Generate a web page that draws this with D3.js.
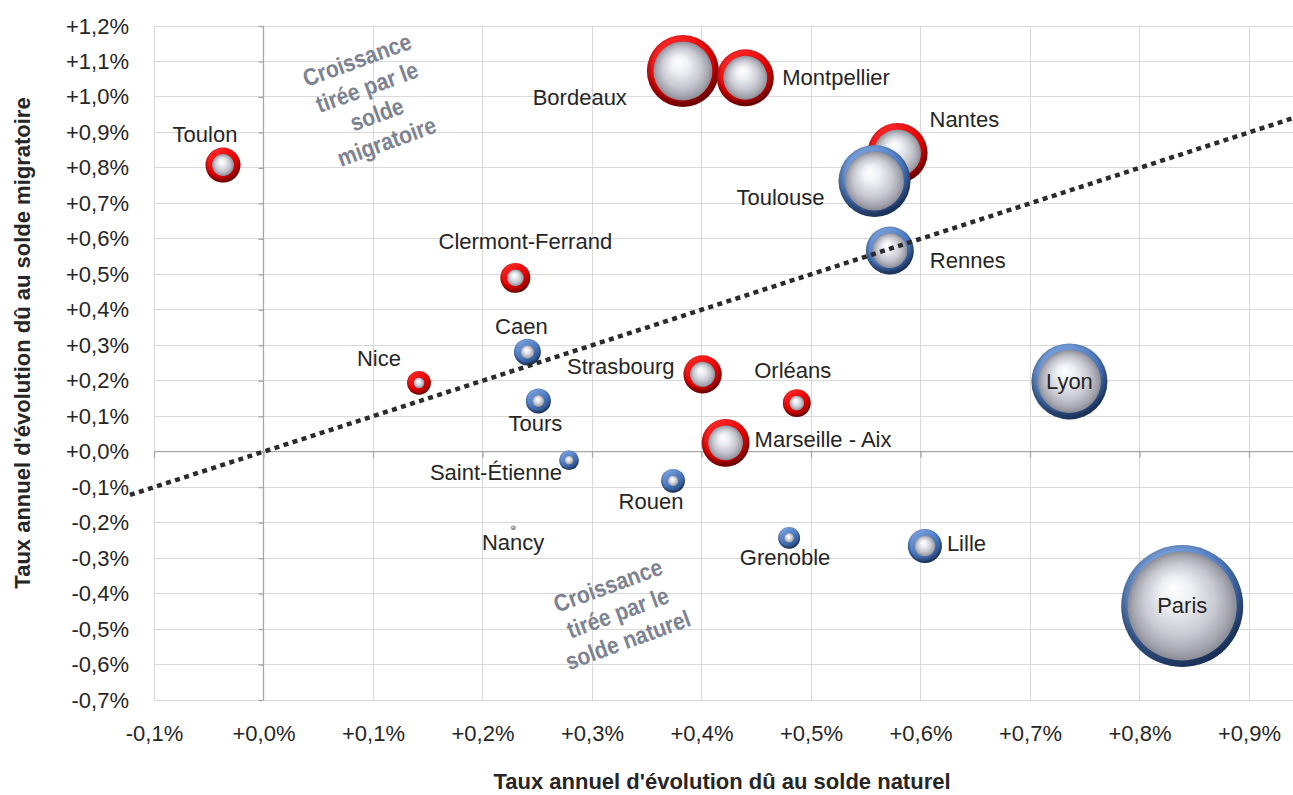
<!DOCTYPE html>
<html>
<head>
<meta charset="utf-8">
<script src="https://cdn.jsdelivr.net/npm/d3@7"></script>
<style>
  html, body { margin: 0; padding: 0; background: #ffffff; }
  svg { display: block; font-family: "Liberation Sans", Arial, sans-serif; }
</style>
</head>
<body>
<svg id="chart" width="1293" height="795"></svg>
<script>
// ---- Data ----
const villes = ["Nantes","Bordeaux","Montpellier","Toulon","Clermont-Ferrand","Nice","Strasbourg","Orléans","Marseille - Aix",
                "Toulouse","Rennes","Lyon","Paris","Lille","Caen","Tours","Saint-Étienne","Rouen","Grenoble","Nancy"];
const soldeNaturel = [0.579, 0.383, 0.440, -0.037, 0.230, 0.142, 0.401, 0.487, 0.422,
                      0.558, 0.572, 0.736, 0.839, 0.604, 0.241, 0.251, 0.279, 0.374, 0.480, 0.228];
const soldeMigratoire = [0.842, 1.073, 1.054, 0.808, 0.490, 0.194, 0.218, 0.137, 0.025,
                         0.763, 0.567, 0.198, -0.435, -0.266, 0.281, 0.143, -0.024, -0.082, -0.243, -0.214];
// annual population growth (thousands of inhabitants) -> bubble area
const croissance = [12.1, 17.4, 10.9, 4.1, 3.0, 1.9, 4.9, 2.6, 7.7,
                    17.4, 7.7, 19.4, 50, 3.9, 2.4, 2.1, 1.3, 1.9, 1.6, 0.08];
const groupe = ["rouge","rouge","rouge","rouge","rouge","rouge","rouge","rouge","rouge",
                "bleu","bleu","bleu","bleu","bleu","bleu","bleu","bleu","bleu","bleu","gris"];
const xTicks = [-0.1, 0.0, 0.1, 0.2, 0.3, 0.4, 0.5, 0.6, 0.7, 0.8, 0.9];
const yTicks = [-0.7, -0.6, -0.5, -0.4, -0.3, -0.2, -0.1, 0.0, 0.1, 0.2, 0.3, 0.4, 0.5, 0.6, 0.7, 0.8, 0.9, 1.0, 1.1, 1.2];
const diagonale = [-0.122, 0.94];   // reference line y = x
const titreX = "Taux annuel d'évolution dû au solde naturel";
const titreY = "Taux annuel d'évolution dû au solde migratoire";
const annotationHaut = ["Croissance", "tirée par le", "solde", "migratoire"];
const annotationBas = ["Croissance", "tirée par le", "solde naturel"];

// label placement (anchor, dx, dy in px relative to bubble centre)
const labelPlacement = {
  "Toulon": ["middle", -18, -31], "Bordeaux": ["end", -56, 26], "Montpellier": ["start", 37, 0],
  "Nantes": ["start", 32, -33], "Toulouse": ["end", -50, 16], "Rennes": ["start", 40, 10],
  "Clermont-Ferrand": ["middle", 10, -36], "Caen": ["middle", -6, -26], "Nice": ["middle", -40, -24],
  "Strasbourg": ["end", -28, -8], "Orléans": ["middle", -4, -33], "Lyon": ["middle", 0, 0],
  "Tours": ["middle", -3, 23], "Marseille - Aix": ["start", 29, -3], "Saint-Étienne": ["end", -7, 12],
  "Rouen": ["middle", -22, 21], "Nancy": ["middle", 0, 15], "Grenoble": ["middle", -4, 20],
  "Lille": ["start", 22, -3], "Paris": ["middle", 0, 0]
};

const data = villes.map((v, i) => ({ville: v, x: soldeNaturel[i], y: soldeMigratoire[i], s: croissance[i], g: groupe[i]}));

// ---- Layout ----
const W = 1293, H = 795;
const svg = d3.select("#chart");
const x = d3.scaleLinear().domain([-0.1, 0.9]).range([154, 1249]);
const y = d3.scaleLinear().domain([-0.7, 1.2]).range([700, 26]);
const r = d3.scaleSqrt().domain([0, 50]).range([0, 61]);
const plotRight = W;
const fmt = v => (v < -1e-9 ? "-" : "+") + Math.abs(v).toFixed(1).replace(".", ",") + "%";

const defs = svg.append("defs");
const sphere = defs.append("radialGradient").attr("id", "sphere")
  .attr("cx", "50%").attr("cy", "50%").attr("r", "50%").attr("fx", "42%").attr("fy", "33%");
[[0, "#ffffff"], [0.3, "#eeeff3"], [0.65, "#c9cad2"], [0.88, "#a5a6af"], [1, "#8a8b95"]]
  .forEach(([o, c]) => sphere.append("stop").attr("offset", o).attr("stop-color", c));
const ringCols = {
  rouge: ["#ff2a2a", "#e80000", "#9a0000"],
  bleu: ["#7aa2dd", "#4a78c0", "#24467f"],
  gris: ["#c8c8c8", "#a0a0a0", "#707070"]
};
Object.entries(ringCols).forEach(([k, c]) => {
  const g = defs.append("linearGradient").attr("id", "ring-" + k)
    .attr("x1", "0.2").attr("y1", "0.05").attr("x2", "0.8").attr("y2", "0.95");
  g.append("stop").attr("offset", 0).attr("stop-color", c[0]);
  g.append("stop").attr("offset", 0.5).attr("stop-color", c[1]);
  g.append("stop").attr("offset", 1).attr("stop-color", c[2]);
});
const shade = defs.append("radialGradient").attr("id", "shade").attr("cx", "50%").attr("cy", "45%").attr("r", "55%");
shade.append("stop").attr("offset", 0.75).attr("stop-color", "#000").attr("stop-opacity", 0);
shade.append("stop").attr("offset", 0.92).attr("stop-color", "#000").attr("stop-opacity", 0.35);

// ---- Grid ----
const grid = svg.append("g");
grid.selectAll(".gx").data(xTicks).join("line")
  .attr("x1", d => x(d)).attr("x2", d => x(d)).attr("y1", y(1.2)).attr("y2", y(-0.7))
  .attr("stroke", "#d9d9d9").attr("stroke-width", 1).attr("shape-rendering", "crispEdges");
grid.selectAll(".gy").data(yTicks).join("line")
  .attr("x1", x(-0.1)).attr("x2", plotRight).attr("y1", d => y(d)).attr("y2", d => y(d))
  .attr("stroke", "#d9d9d9").attr("stroke-width", 1).attr("shape-rendering", "crispEdges");

// zero axes with tick marks
const axY0 = svg.append("g").attr("transform", `translate(${x(0)},0)`)
  .call(d3.axisLeft(y).tickValues(yTicks).tickSize(5).tickFormat(""));
axY0.select(".domain").remove();
axY0.append("line").attr("x1", 0).attr("x2", 0).attr("y1", y(1.2)).attr("y2", y(-0.7));
const axX0 = svg.append("g").attr("transform", `translate(0,${y(0)})`)
  .call(d3.axisBottom(x).tickValues(xTicks).tickSize(6).tickFormat(""));
axX0.select(".domain").remove();
axX0.append("line").attr("x1", x(-0.1)).attr("x2", plotRight).attr("y1", 0).attr("y2", 0);
[axY0, axX0].forEach(a => a.selectAll("line").attr("stroke", "#a6a6a6").attr("stroke-width", 1.3));

// tick labels (low position)
const axL = svg.append("g").attr("transform", `translate(${x(-0.1)},0)`)
  .call(d3.axisLeft(y).tickValues(yTicks).tickSize(0).tickPadding(25).tickFormat(fmt));
const axB = svg.append("g").attr("transform", `translate(0,${y(-0.7)})`)
  .call(d3.axisBottom(x).tickValues(xTicks).tickSize(0).tickPadding(25).tickFormat(fmt));
[axL, axB].forEach(a => {
  a.select(".domain").remove();
  a.selectAll("text").attr("font-size", 22).attr("fill", "#262626").attr("font-family", "Liberation Sans, Arial, sans-serif");
});

// ---- Annotations ----
function annot(lines, cx, cy) {
  const g = svg.append("g").attr("transform", `translate(${cx},${cy}) rotate(-20) scale(0.88,1)`);
  const n = lines.length, lh = 29;
  g.selectAll("text").data(lines).join("text")
    .attr("x", 0).attr("y", (d, i) => (i - (n - 1) / 2) * lh)
    .attr("text-anchor", "middle").attr("dominant-baseline", "central")
    .attr("font-size", 24).attr("font-weight", "bold").attr("fill", "#7d8391")
    .text(d => d);
}
annot(annotationHaut, 372, 101);
annot(annotationBas, 618, 613);

// ---- Bubbles ----
const ringW = rad => Math.min(6.5, rad * 0.55);
const bub = svg.append("g").selectAll("g").data(data).join("g")
  .attr("transform", d => `translate(${x(d.x)},${y(d.y)})`);
bub.append("circle").attr("r", d => r(d.s)).attr("fill", d => `url(#ring-${d.g})`);
bub.append("circle").attr("r", d => r(d.s)).attr("fill", "url(#shade)");
bub.append("circle").attr("r", d => Math.max(0.8, r(d.s) - ringW(r(d.s)))).attr("fill", "url(#sphere)");

// ---- Reference line y = x ----
svg.append("path").datum(diagonale)
  .attr("d", d3.line().x(d => x(d)).y(d => y(d)))
  .attr("stroke", "#2b2b2b").attr("stroke-width", 4.5).attr("stroke-dasharray", "5,4.5").attr("fill", "none");

// ---- Labels ----
svg.append("g").selectAll("text").data(data).join("text")
  .attr("x", d => x(d.x) + labelPlacement[d.ville][1])
  .attr("y", d => y(d.y) + labelPlacement[d.ville][2])
  .attr("text-anchor", d => labelPlacement[d.ville][0])
  .attr("dominant-baseline", "central")
  .attr("font-size", 22).attr("fill", "#262626")
  .text(d => d.ville);

// ---- Axis titles ----
svg.append("text").attr("x", 722).attr("y", 781).attr("text-anchor", "middle").attr("dominant-baseline", "central")
  .attr("font-size", 22).attr("font-weight", "bold").attr("fill", "#262626").text(titreX);
svg.append("text").attr("transform", "translate(22,343) rotate(-90)").attr("text-anchor", "middle").attr("dominant-baseline", "central")
  .attr("font-size", 22).attr("font-weight", "bold").attr("fill", "#262626").text(titreY);
</script>
</body>
</html>
